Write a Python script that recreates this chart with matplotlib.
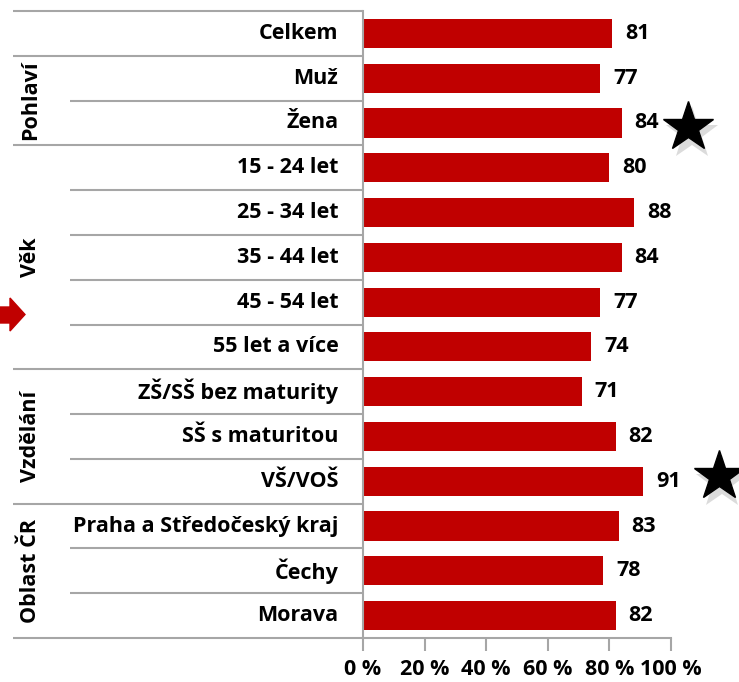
import matplotlib
matplotlib.use("Agg")
import matplotlib.pyplot as plt
from matplotlib.patches import Polygon
from matplotlib.transforms import blended_transform_factory

plt.rcParams['font.family'] = ['Open Sans', 'DejaVu Sans']
plt.rcParams['font.weight'] = 'bold'

# data
categories = ['Celkem', 'Muž', 'Žena', '15 - 24 let', '25 - 34 let', '35 - 44 let',
              '45 - 54 let', '55 let a více', 'ZŠ/SŠ bez maturity', 'SŠ s maturitou',
              'VŠ/VOŠ', 'Praha a Středočeský kraj', 'Čechy', 'Morava']
values = [81, 77, 84, 80, 88, 84, 77, 74, 71, 82, 91, 83, 78, 82]
groups = ['Pohlaví', 'Věk', 'Vzdělání', 'Oblast ČR']
group_ranges = [(1, 2), (3, 7), (8, 10), (11, 13)]  # first/last category index
starred = [2, 10]
star_x = [105.5, 115.5]
star_dy = [0.1, -0.12]
xticks = [0, 20, 40, 60, 80, 100]

red = '#C00000'
gray = '#A6A6A6'
fs = 15.5

fig = plt.figure(figsize=(7.39, 6.82), dpi=100)
ax = fig.add_axes([363 / 739, 1 - 638 / 682, 308 / 739, 627 / 682])

y = list(range(len(categories)))
ax.barh(y, values, height=0.65, color=red)
ax.set_xlim(0, 100)
ax.set_ylim(len(categories) - 0.5, -0.5)

for i, v in enumerate(values):
    ax.annotate(str(v), (v, i), xytext=(13, 0), textcoords='offset pixels',
                va='center', ha='left', fontsize=fs, fontweight='bold')

# category labels
ax.set_yticks([])
trans = blended_transform_factory(ax.transAxes, ax.transData)
for i, c in enumerate(categories):
    ax.text(-0.08, i, c, transform=trans, ha='right', va='center',
            fontsize=fs, fontweight='bold')

# separator lines
x_outer = (13 - 363) / 308
x_inner = (70 - 363) / 308
outer_bounds = [-0.5, 0.5] + [r[1] + 0.5 for r in group_ranges]
for i in range(len(categories) + 1):
    b = i - 0.5
    x0 = x_outer if b in outer_bounds else x_inner
    ax.plot([x0, 0], [b, b], transform=trans, color=gray, lw=1.5,
            clip_on=False, solid_capstyle='butt')

# group labels
for g, (a, b) in zip(groups, group_ranges):
    ax.text((31 - 363) / 308, (a + b) / 2, g, transform=trans, rotation=90,
            ha='center', va='center', fontsize=fs, fontweight='bold')

# axes styling
for s in ['top', 'right']:
    ax.spines[s].set_visible(False)
ax.spines['left'].set_color(gray)
ax.spines['bottom'].set_color(gray)
ax.spines['left'].set_linewidth(1.5)
ax.spines['bottom'].set_linewidth(1.5)
ax.set_xticks(xticks)
ax.set_xticklabels([f'{t} %' for t in xticks], fontsize=fs, fontweight='bold')
ax.tick_params(axis='x', direction='out', length=9, width=1.5, color=gray, pad=6)

# stars next to significant values
for i, sx, dy in zip(starred, star_x, star_dy):
    ax.plot(sx + 1.2, i + dy + 0.15, marker='*', markersize=40, color='#999999',
            alpha=0.35, clip_on=False, markeredgewidth=0)
    ax.plot(sx, i + dy, marker='*', markersize=38, color='black', clip_on=False)

# red arrow on the left
pts = [(-5, 307), (10, 307), (10, 298), (25, 314.5), (10, 331), (10, 323), (-5, 323)]
arrow = Polygon([(px / 739, 1 - py / 682) for px, py in pts], closed=True,
                transform=fig.transFigure, color=red)
fig.patches.append(arrow)

fig.savefig('out.png', dpi=100)
